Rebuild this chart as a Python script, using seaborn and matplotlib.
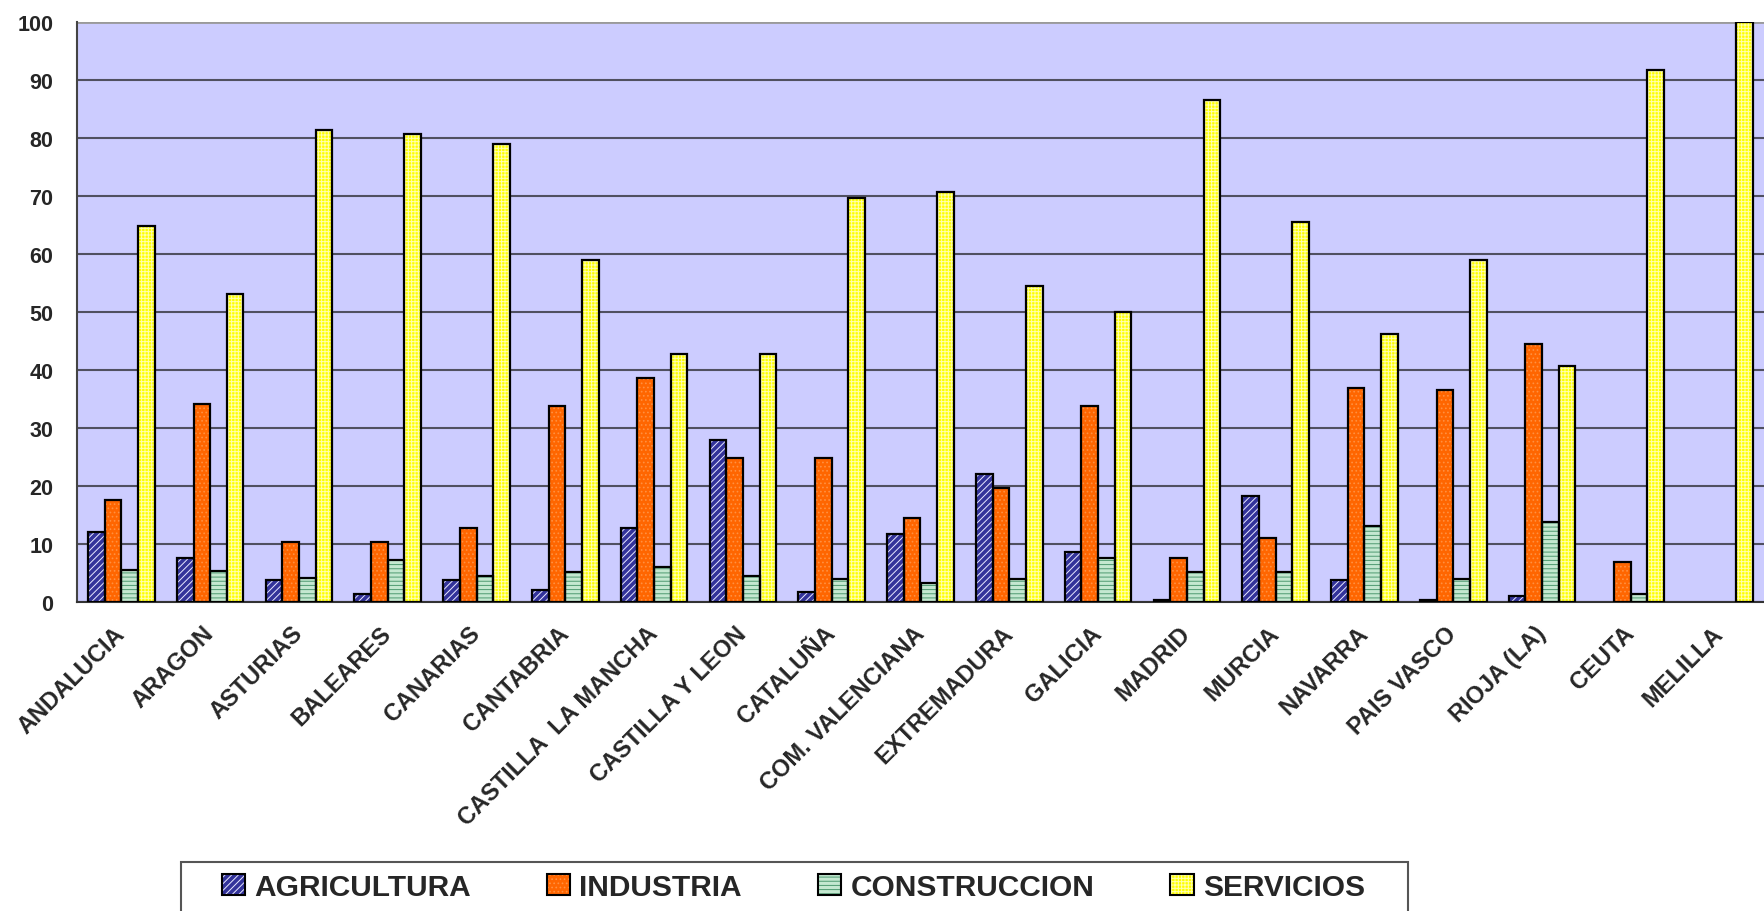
import numpy as np
import pandas as pd
import matplotlib
matplotlib.use("Agg")
import matplotlib.pyplot as plt
from matplotlib.patches import Rectangle, Patch
from matplotlib.transforms import ScaledTranslation
import seaborn as sns

sns.set_style("white")
plt.rcParams['font.family'] = ['Liberation Sans', 'DejaVu Sans']
plt.rcParams['font.weight'] = 'bold'

# datos (% por sector)
regiones = ['ANDALUCIA', 'ARAGON', 'ASTURIAS', 'BALEARES', 'CANARIAS', 'CANTABRIA',
            'CASTILLA  LA MANCHA', 'CASTILLA Y LEON', 'CATALUÑA', 'COM. VALENCIANA',
            'EXTREMADURA', 'GALICIA', 'MADRID', 'MURCIA', 'NAVARRA', 'PAIS VASCO',
            'RIOJA (LA)', 'CEUTA', 'MELILLA']
sectores = ['AGRICULTURA', 'INDUSTRIA', 'CONSTRUCCION', 'SERVICIOS']

agricultura = [12.0, 7.6, 3.8, 1.4, 3.8, 2.1, 12.8, 28.0, 1.7, 11.7, 22.1, 8.7, 0.4, 18.2, 3.8, 0.4, 1.1, 0.0, 0.0]
industria = [17.5, 34.1, 10.3, 10.3, 12.7, 33.8, 38.6, 24.8, 24.8, 14.4, 19.6, 33.7, 7.6, 11.1, 36.9, 36.5, 44.5, 6.9, 0.0]
construccion = [5.5, 5.3, 4.1, 7.2, 4.4, 5.2, 6.0, 4.5, 3.9, 3.2, 3.9, 7.6, 5.2, 5.2, 13.1, 3.9, 13.7, 1.3, 0.0]
servicios = [64.8, 53.1, 81.3, 80.6, 79.0, 58.9, 42.7, 42.7, 69.6, 70.6, 54.4, 50.0, 86.5, 65.5, 46.2, 58.9, 40.7, 91.6, 100.0]

df = pd.DataFrame({'region': regiones, 'AGRICULTURA': agricultura, 'INDUSTRIA': industria,
                   'CONSTRUCCION': construccion, 'SERVICIOS': servicios})
df = df.melt(id_vars='region', var_name='sector', value_name='valor')

# relleno, color de la trama, trama
estilos = {
    'AGRICULTURA': ('#33339A', '#E8E8FF', '/////'),
    'INDUSTRIA': ('#FF6600', '#FF9040', '....'),
    'CONSTRUCCION': ('#C4E8D0', '#4E9A70', '----'),
    'SERVICIOS': ('#FFFF00', '#FFFFB0', '+++++'),
}
plt.rcParams['hatch.linewidth'] = 0.7

W, H = 1764, 912
fig = plt.figure(figsize=(W / 100, H / 100), dpi=100)
x0, ybase, ytop, step = 77, 603, 22.7, 89.67
ax = fig.add_axes([x0 / W, 1 - ybase / H, (W - x0) / W, (ybase - ytop) / H])
ax.set_facecolor('#CCCCFF')

sns.barplot(data=df, x='region', y='valor', hue='sector', order=regiones, hue_order=sectores,
            palette={k: v[0] for k, v in estilos.items()}, width=0.75, gap=0,
            legend=False, ax=ax, zorder=3)

for cont, sec in zip(ax.containers, sectores):
    face, hc, hatch = estilos[sec]
    for bar in cont:
        bar.set_facecolor(face)
        bar.set_edgecolor(hc)
        bar.set_hatch(hatch)
        bar.set_linewidth(0)
        if bar.get_height() > 0:
            ax.add_patch(Rectangle(bar.get_xy(), bar.get_width(), bar.get_height(),
                                   fill=False, edgecolor='black', lw=1.6, zorder=4))

ax.set_ylim(0, 100)
ax.set_xlim(-0.5, -0.5 + (W - x0) / step)
ax.set_yticks(range(0, 101, 10))
ax.yaxis.grid(True, color='#505060', lw=1.5, zorder=0)
ax.set_axisbelow(True)
ax.axhline(100, color='#9a9a9a', lw=2, zorder=1)

ax.set_xticks(np.arange(-0.5, len(regiones), 1), minor=True)
ax.tick_params(axis='x', which='major', length=0, pad=14, labelsize=17)
ax.tick_params(axis='x', which='minor', length=9, width=1.3, color='#444444', direction='out')
ax.tick_params(axis='y', length=9, width=1.3, color='#444444', direction='out', pad=8, labelsize=15.5)
desplaza = ScaledTranslation(-0.08, 0, fig.dpi_scale_trans)
for lab in ax.get_xticklabels():
    lab.set_rotation(45)
    lab.set_ha('right')
    lab.set_va('top')
    lab.set_rotation_mode('anchor')
    lab.set_fontweight('bold')
    lab.set_transform(lab.get_transform() + desplaza)
for lab in ax.get_yticklabels():
    lab.set_fontweight('bold')

ax.set_xlabel('')
ax.set_ylabel('')
for s in ['top', 'right']:
    ax.spines[s].set_visible(False)
ax.spines['left'].set_color('#444444')
ax.spines['left'].set_linewidth(1.5)
ax.spines['bottom'].set_color('#333333')
ax.spines['bottom'].set_linewidth(1.5)

# leyenda
handles = []
for sec in sectores:
    face, hc, hatch = estilos[sec]
    handles.append((Patch(facecolor=face, edgecolor=hc, hatch=hatch, lw=0),
                    Patch(fill=False, edgecolor='black', lw=1.5)))
fig.legend(handles, sectores, loc='center left', bbox_to_anchor=(222 / W, 1 - 888 / H),
           ncol=4, frameon=False, borderpad=0, borderaxespad=0, handlelength=0.78,
           handleheight=0.72, handletextpad=0.3, columnspacing=2.55,
           prop={'weight': 'bold', 'size': 21.5})
fig.patches.append(Rectangle((181 / W, -0.05), (1408 - 181) / W, 0.05 + 1 - 863 / H,
                             transform=fig.transFigure, fill=False, edgecolor='#555555', lw=1.5))

fig.savefig('out.png', dpi=100)
